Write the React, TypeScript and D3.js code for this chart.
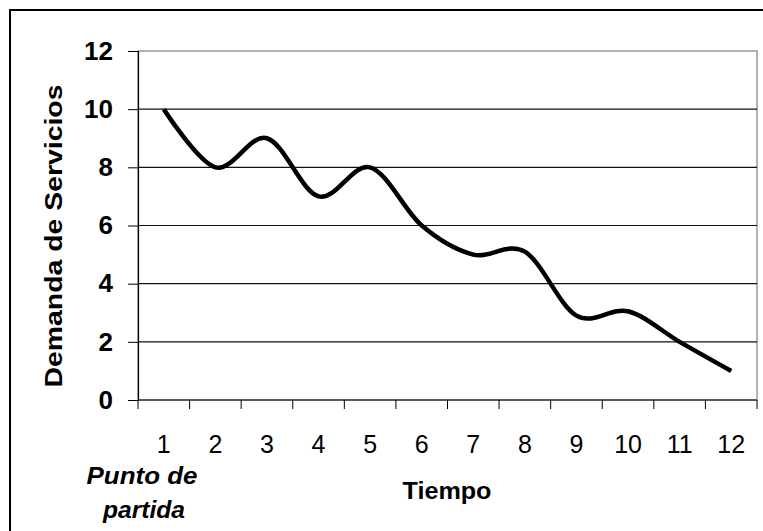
import { useRef, useEffect } from 'react';
import * as d3 from 'd3';

// periods on the time axis and the demand read at each one
const periods = ['1', '2', '3', '4', '5', '6', '7', '8', '9', '10', '11', '12'];
const demand = [10, 8, 9, 7, 8, 6, 5, 5.1, 2.9, 3.05, 2, 1];
const yTicks = [0, 2, 4, 6, 8, 10, 12];

export default function App() {
  const svgRef = useRef<SVGSVGElement | null>(null);

  useEffect(() => {
    const width = 763;
    const height = 531;
    const margin = { top: 51, right: 6, bottom: 131, left: 138 };

    const svg = d3.select(svgRef.current)
      .attr('width', width)
      .attr('height', height);
    svg.selectAll('*').remove();

    const font = "'Liberation Sans', Arial, sans-serif";

    // outer chart border
    svg.append('rect')
      .attr('x', 10).attr('y', 10)
      .attr('width', 800).attr('height', 600)
      .attr('fill', 'none')
      .attr('stroke', '#000')
      .attr('stroke-width', 2);

    const xScale = d3.scaleBand()
      .domain(periods)
      .range([margin.left, width - margin.right]);

    const yScale = d3.scaleLinear()
      .domain([0, 12])
      .range([height - margin.bottom, margin.top]);

    const x0 = margin.left;
    const x1 = width - margin.right;
    const y0 = yScale(0);

    // plot area frame (grey)
    svg.append('rect')
      .attr('x', x0).attr('y', yScale(12))
      .attr('width', x1 - x0).attr('height', y0 - yScale(12))
      .attr('fill', 'none')
      .attr('stroke', '#999')
      .attr('stroke-width', 1.5);

    // horizontal gridlines
    svg.append('g')
      .selectAll('line')
      .data(yTicks.filter(d => d > 0 && d < 12))
      .enter()
      .append('line')
      .attr('x1', x0).attr('x2', x1)
      .attr('y1', d => yScale(d)).attr('y2', d => yScale(d))
      .attr('stroke', '#111')
      .attr('stroke-width', 1.1);

    // y axis
    const yAxis = svg.append('g')
      .attr('transform', `translate(${x0}, 0)`)
      .call(d3.axisLeft(yScale).tickValues(yTicks).tickSize(10).tickPadding(15));
    yAxis.select('.domain').attr('stroke', '#000').attr('stroke-width', 1.2);
    yAxis.selectAll('.tick line').attr('stroke', '#000');
    yAxis.selectAll('.tick text')
      .attr('font-family', font)
      .attr('font-size', 26)
      .attr('font-weight', 'bold')
      .attr('fill', '#000');

    // x axis: ticks between categories
    const xg = svg.append('g');
    xg.append('line')
      .attr('x1', x0).attr('x2', x1)
      .attr('y1', y0).attr('y2', y0)
      .attr('stroke', '#000')
      .attr('stroke-width', 1.2);
    const bounds = periods.map(p => xScale(p) as number).concat([x1]);
    xg.selectAll('line.tk')
      .data(bounds)
      .enter()
      .append('line')
      .attr('class', 'tk')
      .attr('x1', d => d).attr('x2', d => d)
      .attr('y1', y0).attr('y2', y0 + 9)
      .attr('stroke', '#000');
    xg.selectAll('text')
      .data(periods)
      .enter()
      .append('text')
      .attr('x', d => (xScale(d) as number) + xScale.bandwidth() / 2)
      .attr('y', 453)
      .attr('text-anchor', 'middle')
      .attr('font-family', font)
      .attr('font-size', 25)
      .attr('fill', '#000')
      .text(d => d);

    // the demand line, smoothed
    const line = d3.line<number>()
      .x((d, i) => (xScale(periods[i]) as number) + xScale.bandwidth() / 2)
      .y(d => yScale(d))
      .curve(d3.curveCatmullRom.alpha(0));

    svg.append('path')
      .datum(demand)
      .attr('d', line)
      .attr('fill', 'none')
      .attr('stroke', '#000')
      .attr('stroke-width', 4.5)
      .attr('stroke-linejoin', 'round');

    // titles
    svg.append('text')
      .attr('transform', 'translate(62, 236) rotate(-90)')
      .attr('text-anchor', 'middle')
      .attr('font-family', font)
      .attr('font-size', 24)
      .attr('font-weight', 'bold')
      .attr('textLength', 303)
      .attr('lengthAdjust', 'spacingAndGlyphs')
      .text('Demanda de Servicios');

    svg.append('text')
      .attr('x', 447).attr('y', 499)
      .attr('text-anchor', 'middle')
      .attr('font-family', font)
      .attr('font-size', 23)
      .attr('font-weight', 'bold')
      .attr('textLength', 89)
      .attr('lengthAdjust', 'spacingAndGlyphs')
      .text('Tiempo');

    svg.append('text')
      .attr('x', 142).attr('y', 484)
      .attr('text-anchor', 'middle')
      .attr('font-family', font)
      .attr('font-size', 23)
      .attr('font-weight', 'bold')
      .attr('font-style', 'italic')
      .attr('textLength', 111)
      .attr('lengthAdjust', 'spacingAndGlyphs')
      .text('Punto de');

    svg.append('text')
      .attr('x', 144).attr('y', 518)
      .attr('text-anchor', 'middle')
      .attr('font-family', font)
      .attr('font-size', 23)
      .attr('font-weight', 'bold')
      .attr('font-style', 'italic')
      .attr('textLength', 82)
      .attr('lengthAdjust', 'spacingAndGlyphs')
      .text('partida');
  }, []);

  return (
    <svg ref={svgRef} style={{ position: 'absolute', left: 0, top: 0, background: '#fff' }} />
  );
}
